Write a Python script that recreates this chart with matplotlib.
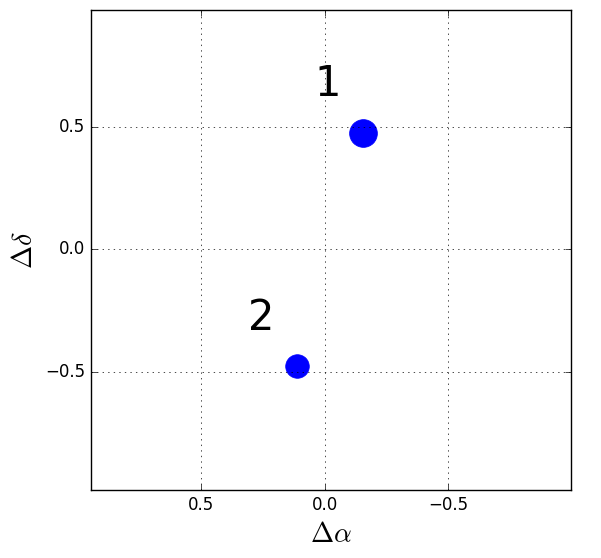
import matplotlib
matplotlib.use("Agg")
import matplotlib.pyplot as plt
import numpy as np

plt.style.use('classic')

# source offsets (dRA, dDec) and marker sizes
dra = [-0.156, 0.111]
ddec = [0.476, -0.474]
sizes = [20, 17]
labels = ['1', '2']
label_x = [-0.012, 0.258]
label_y = [0.672, -0.278]

fig = plt.figure(figsize=(6.01, 5.58), dpi=100)
ax = fig.add_axes([91/601, 68/558, 480/601, 480/558])

for x, y, s in zip(dra, ddec, sizes):
    ax.plot(x, y, 'o', color='b', markeredgecolor='b', markersize=s)

for lx, ly, t in zip(label_x, label_y, labels):
    ax.text(lx, ly, t, fontsize=30, ha='center', va='center')

ax.set_xlim(0.945, -0.997)
ax.set_ylim(-0.98, 0.975)
ax.set_xticks([0.5, 0.0, -0.5])
ax.set_yticks([0.5, 0.0, -0.5])
ax.grid(True)
ax.set_xlabel(r'$\Delta\alpha$', fontsize=20)
ax.set_ylabel(r'$\Delta\delta$', fontsize=20)

fig.savefig('out.png', dpi=100)
